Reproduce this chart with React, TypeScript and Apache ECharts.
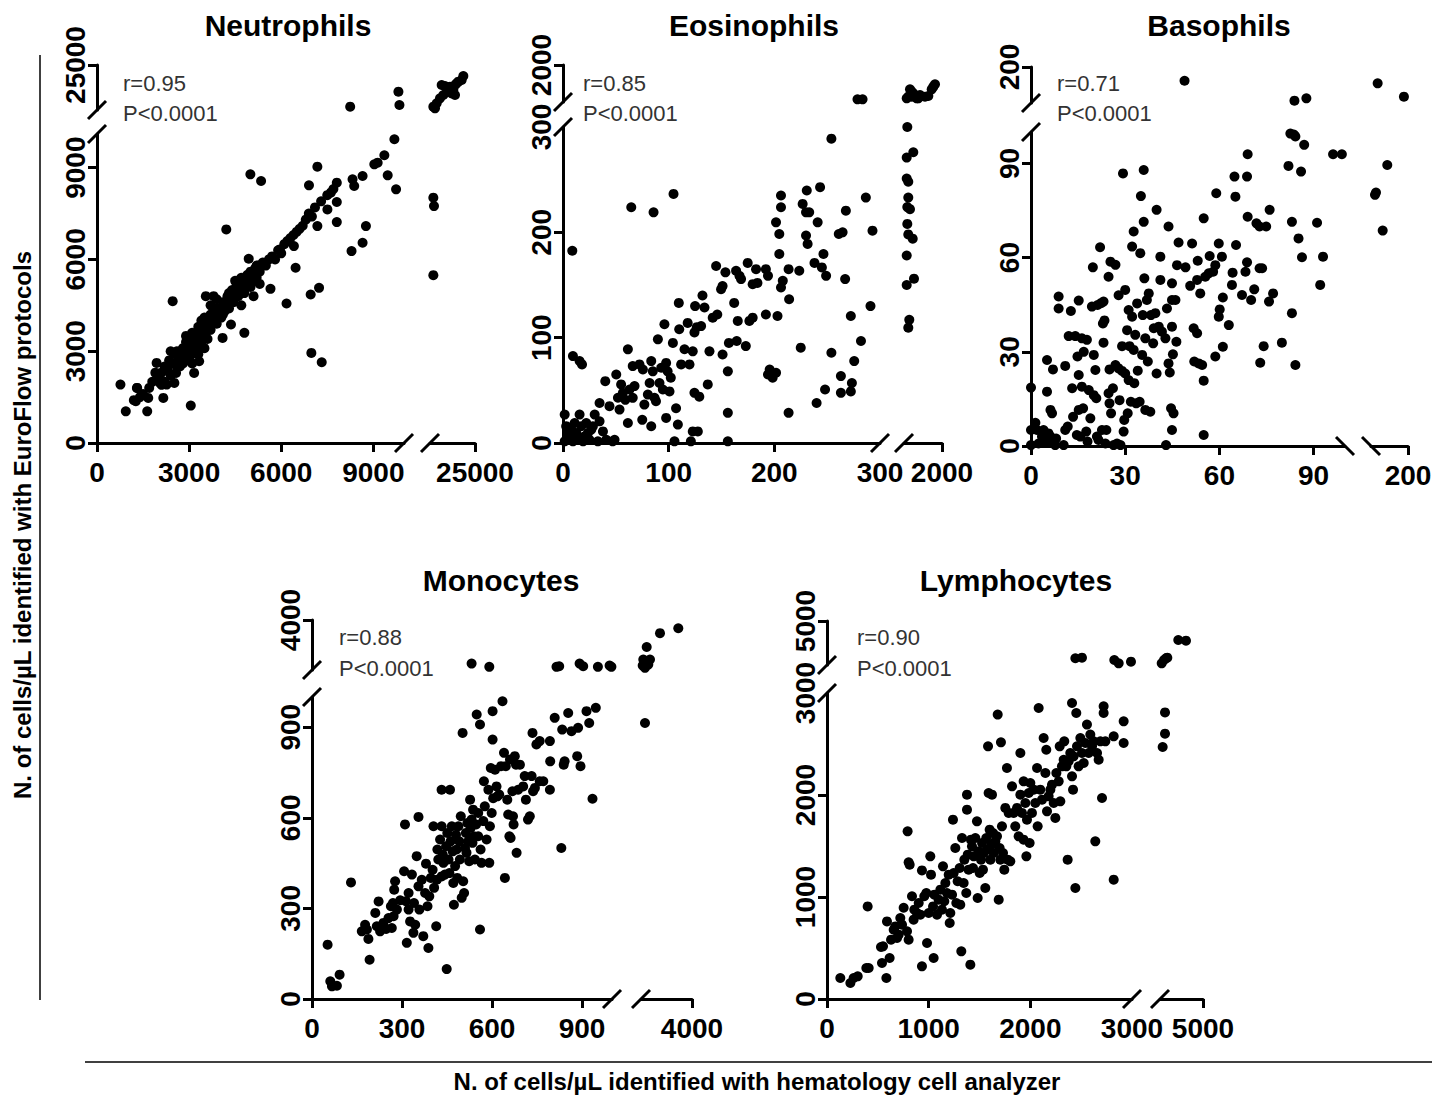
import React, { useEffect, useRef } from "react";
import * as echarts from "echarts";

const FONT = "'Liberation Sans', Arial, Helvetica, sans-serif";

const panelTitles = ["Neutrophils", "Eosinophils", "Basophils", "Monocytes", "Lymphocytes"];
const rLabels = ["r=0.95", "r=0.85", "r=0.71", "r=0.88", "r=0.90"];
const pLabel = "P<0.0001";
const yTitle = "N. of cells/µL identified with EuroFlow protocols";
const xTitle = "N. of cells/µL identified with hematology cell analyzer";

const neutrophilTicks = [0, 3000, 6000, 9000];
const eosinophilTicks = [0, 100, 200, 300];
const basophilTicks = [0, 30, 60, 90];
const monocyteTicks = [0, 300, 600, 900];
const lymphocyteTicks = [0, 1000, 2000, 3000];
const upperTicks = [25000, 2000, 200, 4000, 5000];

const neutrophils: number[][] = [
  [764,1909],[938,1036],[1309,1800],[1265,1364],[1636,1036],[1669,1473],[1942,2618],[2160,1473],[2465,4636],[2051,1964],
  [2269,1909],[2520,1964],[2575,2291],[3055,1222],[3164,2291],[3327,2673],[3545,4800],[4091,3436],[4364,3873],[4800,3600],
  [4211,6982],[4942,6022],[4996,8782],[5345,8564],[5651,5040],[6174,4560],[5956,6327],[6414,6436],[6469,5727],[6905,8422],
  [6960,4855],[6982,2945],[7233,5073],[7320,2640],[7178,9033],[7178,7091],[7505,7636],[7615,8182],[7811,8509],[7811,7876],
  [7811,7222],[8324,8618],[8378,8400],[8291,6273],[8651,6545],[8760,7091],[8651,8727],[9033,9109],[9142,9164],[9360,9404],
  [9469,8749],[9687,9927],[9742,8291],
  [1500,1600],[1700,1800],[1800,2000],[1900,2300],[2000,2100],[2100,2300],[2200,2500],[2300,2400],[2350,2700],[2400,2200],
  [2500,2600],[2550,2900],[2600,2500],[2650,2800],[2700,3000],[2750,2700],[2800,3100],[2850,2900],[2900,3300],[2950,3000],
  [3000,3200],[3000,2800],[3050,3400],[3100,3100],[3150,3300],[3200,3500],[3200,3000],[3250,3200],[3300,3400],[3350,3600],
  [3400,3300],[3400,3700],[3450,3500],[3500,3800],[3550,3600],[3600,4000],[3600,3400],[3650,3800],[3700,4200],[3700,3700],
  [3750,3900],[3800,4100],[3850,4400],[3900,3900],[3950,4200],[4000,4400],[4050,4100],[4100,4600],[4150,4300],[4200,4500],
  [4250,4800],[4300,4400],[4350,4700],[4400,5000],[4450,4600],[4500,4900],[4550,5200],[4600,4800],[4650,5100],[4700,5400],
  [4750,5000],[4800,5300],[4850,5100],[4900,5500],[4950,5200],[5000,5600],[5050,5300],[5100,5500],[5150,5700],[5200,5400],
  [5250,5800],[5300,5600],[5400,5900],[5500,5800],[5600,6000],[5700,6100],[5800,6000],[5900,6300],[6000,6200],[6100,6500],
  [6200,6600],[6300,6700],[6400,6800],[6500,6900],[6600,7000],[6700,7100],[6800,7300],[6900,7500],[7000,7400],[7100,7700],
  [7300,7900],[7500,8100],[7700,8300],[3800,4800],[3900,4700],[4500,5300],[2400,3000],[2100,1900],[1200,1400],[1300,1800],
  [1400,1500],[2200,2000],[2800,2600],[3100,2600],[3300,2900],[3500,3100],[4700,4500],[5100,4800],[5300,5200],
  [2600,3000],[2900,3500],[3100,3600],[3300,3800],[3500,4100],[3700,4500],[3900,4300],[4100,4200],[4300,4900],[4600,5300],
  [4800,4900],[5000,5100],[5200,5800],[2700,2500],[2900,2700],[3100,2900],[3300,3100],[3500,3500],[3400,4000],
  [8247,11111],[9818,16111],[9851,11667],
  [11111,11111],[11667,10556],[12222,12222],[13333,13889],[13889,18333],[14444,15000],[15556,17222],[16667,17778],[16111,16111],
  [17778,16667],[18333,15000],[18889,18889],[19444,19444],[20556,20000],[21111,21333],[18333,18333],[17222,15556],[15000,18000],
  [11111,8018],[11333,7745],[11111,5487]
];

const eosinophils: number[][] = [
  [8.8,182.5],[9.4,82.5],[15.7,77.8],[18,74.6],[64.6,223.8],[85.7,219],[104.6,236.5],
  [1.6,27],[3,16],[6.3,4.8],[9.4,1.6],[4.7,9.5],[12.6,9.5],[15.7,27],[17.3,16],[20.5,6.3],[22,19],[25,3],[26.8,12.7],
  [23.6,9.5],[11,19],[14,3],[1.6,1.6],[7.9,12.7],[19,1.6],[30,27],[34.6,38],[34.6,20.6],[37.8,11],[41,3],[44,35],[47,1.6],
  [48.8,3],[40,58.7],[33,1.6],[28.3,15.9],
  [50.4,65],[52,43],[53.5,31.7],[55,55.6],[56.7,47.6],[59,41],[61.4,88.9],[61.4,19],[63,50.8],[66,42.9],[67.7,54],[66,73],
  [72.4,74.6],[75.6,69.8],[77,36.5],[75,22],[80.3,46],[82,57],[83.5,77.8],[85,68],[83.5,15.9],[86.6,42.9],[88,39.7],[89.8,98.4],
  [91.3,57],[93,71.4],[94.5,50.8],[96,112.7],[97.6,76],[99,68],[100.8,49],[97.6,23.8],[102,62],[104,95],[105.5,1.6],[107,33],
  [108.7,17.5],[110,108],[109.6,133],[111.8,74.6],[115,89],[118,114],[119.7,74.6],[121,1.6],[122.8,87],[124.4,47.6],[124.4,105],
  [125,130],[126.6,110],[122.8,11],[127.6,11],[129,44],[130.7,111],[132,140],[133.9,128.6],[137,55.6],[138.6,87],[141.7,119],
  [144.9,168],[146,122],[149.6,146],[151,84],[151,149],[153.7,162],[156,28.6],[156,1.6],[156,68],[157,95],[162,133],[163.8,163.5],
  [164.4,96.8],[165.4,115.9],[167,158.7],[168.5,155.6],[174.8,171],[176.4,115.9],[173,92],[179.5,119],[179.5,150.8],[182.7,165],
  [184,152],[192,165],[192,122],[194,158.7],[194,65],[195.6,69.8],[198.4,62],[201.6,66.7],[201.6,209.5],[203,120.6],[204.7,198.4],
  [204.7,179.4],[206.3,223.8],[206.3,235],[206.3,147.6],[208,154],[213.5,28.6],[214,136.5],[213.5,165],[223.6,163.5],[225,90.5],
  [226.8,227],[230,219],[230,197],[230.7,239.7],[231.5,189],[233,219],[238,171],[240,38],[241,209.5],[243.3,242.9],[245,166.7],
  [246.5,179.4],[248,50.8],[249,158.7],[254,288.9],[254,85.7],[261,198.4],[263,63.5],[263,47.6],[264.6,200],[267,155.6],
  [267.7,220.6],[272.4,120.6],[273.4,57],[272.4,49],[275.6,77.8],[282,96.8],[286.6,233],[291,130],[292.9,201.6],
  [278.7,424],[283.5,424],
  [448,300],[421,271],[716,276],[421,251],[492,248],[492,233],[448,224],[568,222],[448,208],[492,198],[690,194],[421,178],
  [747,156],[421,150],[537,117],[492,109.5],
  [421,470],[568,883],[645,773],[716,700],[792,544],[868,470],[1016,622],[1239,544],[1387,576],[1539,883],[1611,1003],
  [1687,1113],[492,544],[940,470],[645,544]
];

const basophils: number[][] = [
  [0,18.6],[0,5.1],[0,0.3],[1.4,7.4],[1.9,5.1],[2.4,0.8],[3.5,3],[4,5.1],[5.1,27.4],[5.1,17.3],[4.6,1.4],[5.6,4],[6.2,3],
  [6.2,11.5],[6.7,10.4],[6.7,1.4],[7,24.4],[7.7,0.3],[8,2.4],[8.8,47.6],[8.8,43.8],[10.4,0.3],[10.9,5.1],[10.9,25.5],[11.7,6.2],
  [12,35],[12.7,43],[13.1,18.4],[13.4,9.3],[14.1,35],[14.6,3.5],[14.8,28.5],[15.2,11.5],[15.2,46.3],[15.2,22.6],[15.7,3],
  [16.2,34.3],[16.2,18.9],[16.6,12],[16.8,30],[17.6,4.6],[17.8,33.8],[18,1.4],[18.4,17.8],[18.9,8.8],[19.4,44.4],[19.7,56.9],
  [20,29],[20,16.2],[20.5,24.2],[20.8,15.2],[21,3],[21.2,44.9],[21.5,1.9],[22,63.3],[22.3,45.5],[22.6,5.1],[23.1,46],[22.9,39],
  [23.4,40],[23.1,32.9],[23.7,0.8],[24,5.1],[24.7,53.9],[24.7,16.8],[25,24.4],[25,13.6],[25.5,10.4],[25.3,58.7],[26.1,18.4],
  [26.3,0.3],[26.9,57.7],[26.9,25.8],[27.4,0.8],[27.9,24.7],[27.9,48],[28.2,14.6],[28.5,0.3],[29,23.9],[29,31.8],[29.3,86.8],
  [29.5,4.6],[29.7,8.3],[30,49.7],[30,23.1],[30.6,36.9],[30.8,10.4],[31.1,21],[31.1,43.3],[31.4,31.8],[31.8,14.1],[32.2,41.2],
  [32.2,63.5],[32.7,68.3],[32.7,30.6],[32.9,20],[33.2,35.4],[33.5,13.6],[33.8,45.4],[34,24],[34.6,14.1],[34.8,61.4],[35,79.6],
  [35.4,29],[35.6,41.7],[35.9,87.9],[35.9,71.4],[36.1,53.4],[36.4,34.3],[36.4,11.5],[36.9,46.5],[37.2,26.9],[37.5,48.6],
  [38,10.9],[38.2,41.7],[38.9,32.7],[39.1,37.5],[39.6,42.3],[40,75.2],[40,23.1],[40.7,38],[41.2,60.3],[41.2,52.9],[41.7,36.4],
  [42.8,34.3],[43,0.3],[43.3,43.8],[43.8,69.9],[43.8,26.3],[44.2,23.4],[44.6,12],[44.9,51.8],[44.9,46.5],[44.9,38],[44.9,5.1],
  [45.2,29.2],[45.4,10.4],[46,46.5],[46.3,33.2],[47,64.8],[46.5,57.6],[49.2,56.9],[50.7,51],[51.3,64.5],[51.8,37.5],[52,26.9],
  [52.9,52.9],[52.9,35.9],[53.1,59],[53.4,26.3],[53.9,48.6],[54.5,25.8],[55,72.5],[55,20.8],[55,3.5],[55.5,53.9],[56.6,55],
  [56.9,60.5],[58,55.5],[58.7,28.5],[58.7,57.6],[59,80.5],[59.8,64.5],[59.8,41.2],[60.1,43.5],[60.8,60.3],[61.1,47.3],
  [61.1,31.6],[63,38.5],[64,51.3],[64.2,55.2],[64.8,85.8],[65.1,79.4],[65.3,64],[67.2,48.1],[68.3,55.5],[68.8,58.5],[68.8,85.8],
  [69,92.9],[69,73],[70.1,46.5],[71.1,49.9],[71.8,70.9],[72.8,69.9],[72.8,56.6],[73,26.5],[73.6,56.6],[74.1,31.8],[74.9,69.9],
  [75.8,46],[76,75.2],[77.1,48.6],[79.9,32.9],[82,89.2],[82.6,99.5],[83.1,71.4],[83.1,42.3],[83.7,99.2],[84.2,98.6],[84.2,25.8],
  [85.2,66.1],[86,87.4],[86.3,60.1],[87,95.9],[91.1,71.1],[92.1,51.3],[93,60.3],[96.2,92.9],[99,92.9],
  [48.9,161.9],[83.9,106.4],[87.7,113],
  [118,154.7],[189,117.5],
  [110.8,80],[113.5,80.7],[144,89.5],[131.6,68.6]
];

const monocytes: number[][] = [
  [52,180],[61,58.5],[66.5,42],[83,44],[92,80.6],[130,386],[192,130],[188,199],[183,230],[166,224],[177,246],[211,285],
  [222,323],[216,241],[227,224],[238,252],[247,232],[255,268],[266,235],[263,307],[270,318],[274,362],[277,390],[272,274],
  [283,296],[294,327],[310,578],[307,423],[313,324],[316,186],[322,296],[322,351],[327,257],[333,412],[338,219],[340,318],
  [344,246],[349,473],[355,603],[355,373],[358,296],[366,395],[371,208],[377,351],[380,448],[385,307],[388,169],[391,340],
  [396,401],[402,428],[405,572],[407,368],[414,241],[416,395],[418,495],[421,462],[427,528],[432,572],[432,693],[432,406],
  [436,478],[438,451],[443,412],[447,506],[449,99],[451,550],[455,462],[458,417],[460,693],[462,522],[466,572],[469,489],
  [471,384],[473,312],[477,440],[480,544],[482,495],[484,401],[488,572],[491,522],[493,462],[496,605],[499,335],[502,881],
  [504,390],[507,351],[510,500],[513,550],[515,484],[518,583],[521,522],[524,456],[527,660],[529,567],[532,594],[535,517],
  [537,627],[540,539],[543,462],[547,578],[549,942],[554,616],[554,539],[560,230],[560,909],[562,495],[565,451],[571,589],
  [573,721],[576,638],[582,528],[588,693],[591,451],[593,572],[596,765],[599,616],[602,859],[602,953],[604,665],[610,759],
  [615,704],[618,671],[624,677],[630,771],[635,986],[640,815],[643,401],[646,771],[651,660],[654,611],[658,539],[660,793],
  [662,533],[668,688],[670,605],[672,578],[676,804],[680,776],[682,484],[687,693],[693,776],[704,704],[709,738],[713,660],
  [720,594],[726,605],[732,738],[735,881],[737,688],[743,699],[748,843],[759,854],[759,721],[771,721],[793,854],[794,787],
  [793,693],[809,931],[831,500],[834,892],[839,776],[842,787],[854,947],[865,887],[887,898],[884,804],[895,771],[915,953],
  [924,914],[935,663],[946,964],
  [532,1386],[591,1190],[815,1190],[824,1226],[892,1386],[904,1226],[953,1190],[992,1267],[998,1190],
  [1335,2378],[1135,1624],[1235,1131],[1335,1428],[1529,1624],[1100,1267],[1429,1327],[2118,3210],[3194,3507],
  [1235,914]
];

const lymphocytes: number[][] = [
  [131,206],[230,157],[262,206],[302,222],[387,304],[410,304],[400,908],[541,353],[531,510],[551,516],[590,761],[584,206],
  [616,402],[630,582],[656,680],[672,712],[689,598],[705,631],[721,794],[738,729],[754,895],[787,663],[803,582],[793,1644],
  [803,1340],[813,1317],[836,1007],[852,778],[859,876],[885,843],[902,941],[918,827],[934,320],[934,1261],[957,1007],[977,1039],
  [984,549],[1000,843],[1016,1399],[1023,1219],[1043,908],[1049,402],[1056,1023],[1082,827],[1098,974],[1115,1072],[1131,876],
  [1141,1301],[1154,958],[1164,1137],[1180,1039],[1197,1219],[1207,745],[1213,843],[1230,1023],[1239,1758],[1246,1235],
  [1262,1480],[1272,941],[1285,1154],[1305,1284],[1311,925],[1321,467],[1328,1578],[1344,1137],[1351,1366],[1370,1039],
  [1377,2003],[1377,1856],[1384,1415],[1393,1268],[1410,337],[1416,1562],[1426,1497],[1436,1284],[1443,1399],[1459,1578],
  [1475,1742],[1482,990],[1492,1448],[1502,1235],[1515,1366],[1525,1529],[1534,1268],[1541,1431],[1557,1088],[1567,1578],
  [1574,1464],[1584,2477],[1590,2020],[1600,1660],[1607,1366],[1616,1513],[1623,2003],[1633,1627],[1639,1431],[1656,1546],
  [1672,1595],[1679,2788],[1689,974],[1698,1480],[1705,1366],[1711,2516],[1721,1693],[1731,1431],[1744,1268],[1754,1873],
  [1770,2265],[1777,1366],[1787,1824],[1803,1350],[1820,2085],[1836,1824],[1852,1693],[1869,1873],[1885,1595],[1902,2412],
  [1902,2003],[1918,1824],[1934,2134],[1934,1562],[1951,1922],[1961,1399],[1967,1758],[1984,2020],[1993,1529],[2000,2118],
  [2016,1824],[2033,2052],[2049,1922],[2066,2265],[2072,1693],[2082,2853],[2098,2052],[2115,1954],[2131,2559],[2148,2216],
  [2157,2444],[2164,1840],[2180,1987],[2197,2052],[2213,2101],[2230,1922],[2246,1775],[2256,2216],[2279,2134],[2289,2477],
  [2295,1938],[2311,2281],[2328,2346],[2334,2526],[2354,2281],[2367,1366],[2377,2330],[2393,2412],[2410,2902],[2410,2183],
  [2420,2052],[2426,2379],[2443,1088],[2452,2804],[2459,2477],[2475,2281],[2492,2559],[2508,2412],[2525,2314],[2541,2510],
  [2557,2690],[2574,2412],[2590,2592],[2607,2477],[2623,2526],[2639,1546],[2656,2412],[2672,2346],[2689,2526],[2705,1971],
  [2721,2869],[2721,2804],[2738,2526],[2820,2575],[2820,1170],[2918,2722],[2918,2510],
  [2443,3305],[2508,3332],[2826,3227],[2869,3077],[2990,3150],
  [3079,3077],[3186,3227],[3279,3305],[3340,3332],[3851,4136],[4209,4105],
  [3233,2810],[3233,2601],[3124,2471]
];

const panelData = [neutrophils, eosinophils, basophils, monocytes, lymphocytes];
const panelTicks = [neutrophilTicks, eosinophilTicks, basophilTicks, monocyteTicks, lymphocyteTicks];
const mainRanges = [[0, 10000, 0, 10100], [0, 300, 0, 300], [0, 100, 0, 100], [0, 1000, 0, 1000], [0, 3000, 0, 3000]];
const upperRanges = [[10000, 25000], [300, 2000], [100, 200], [1000, 4000], [3000, 5000]];

// layout (pixels): axis x, axis y, main right, main top, upper left, upper right, upper top, upper bottom
const layouts = [
  { ax: 97, ay: 443, mr: 404, mt: 134, ul: 430, ur: 475, ut: 65, ub: 110, tx: 288, ty: 25, an: 123, ry: 83, py: 113, xd: 1 },
  { ax: 563, ay: 443, mr: 880, mt: 127, ul: 904, ur: 942, ut: 65, ub: 102, tx: 754, ty: 25, an: 583, ry: 83, py: 113, xd: 1 },
  { ax: 1031, ay: 446, mr: 1345, mt: 132, ul: 1371, ur: 1408, ut: 67, ub: 103, tx: 1219, ty: 25, an: 1057, ry: 83, py: 113, xd: -1 },
  { ax: 312, ay: 999, mr: 612, mt: 697, ul: 641, ur: 692, ut: 620, ub: 670, tx: 501, ty: 580, an: 339, ry: 637, py: 668, xd: 1 },
  { ax: 827, ay: 999, mr: 1132, mt: 693, ul: 1160, ur: 1203, ut: 621, ub: 665, tx: 1016, ty: 580, an: 857, ry: 637, py: 668, xd: 1 },
];

function buildOption() {
  const grid: any[] = [];
  const xAxis: any[] = [];
  const yAxis: any[] = [];
  const series: any[] = [];
  const graphic: any[] = [];
  const lineStyle = { color: "#000", width: 3 };
  const labelBase = {
    color: "#000",
    fontFamily: FONT,
    fontWeight: "bold",
    fontSize: 28,
    formatter: (v: number) => String(v),
  };
  const slash = (cx: number, cy: number, d: number) => ({
    type: "line",
    z: 100,
    shape: { x1: cx - 9, y1: cy + 9 * d, x2: cx + 9, y2: cy - 9 * d },
    style: { stroke: "#000", lineWidth: 3 },
  });

  panelData.forEach((data, i) => {
    const L = layouts[i];
    const [x0, x1, y0, y1] = mainRanges[i];
    const [u0, u1] = upperRanges[i];
    const ticks = panelTicks[i];
    const up = upperTicks[i];
    const rects = [
      { l: L.ax, r: L.mr, t: L.mt, b: L.ay, xr: [x0, x1], yr: [y0, y1], xs: true, ys: true,
        xl: ticks, yl: ticks, xt: ticks.filter((v) => v < x1), yt: ticks.filter((v) => v < y1) },
      { l: L.ax, r: L.mr, t: L.ut, b: L.ub, xr: [x0, x1], yr: [u0, u1], xs: false, ys: true,
        xl: [], yl: [up], xt: [], yt: [up] },
      { l: L.ul, r: L.ur, t: L.mt, b: L.ay, xr: [u0, u1], yr: [y0, y1], xs: true, ys: false,
        xl: [up], yl: [], xt: [up], yt: [] },
      { l: L.ul, r: L.ur, t: L.ut, b: L.ub, xr: [u0, u1], yr: [u0, u1], xs: false, ys: false,
        xl: [], yl: [], xt: [], yt: [] },
    ];
    rects.forEach((g, k) => {
      const gi = grid.length;
      grid.push({ left: g.l, top: g.t, width: g.r - g.l, height: g.b - g.t, containLabel: false, outerBoundsMode: "none" });
      xAxis.push({
        type: "value", gridIndex: gi, min: g.xr[0], max: g.xr[1], show: g.xs, position: "bottom",
        axisLine: { show: true, onZero: false, lineStyle },
        axisTick: { show: true, length: 9, lineStyle, customValues: g.xt },
        axisLabel: { ...labelBase, margin: 15, customValues: g.xl },
        splitLine: { show: false },
      });
      yAxis.push({
        type: "value", gridIndex: gi, min: g.yr[0], max: g.yr[1], show: g.ys, position: "left",
        axisLine: { show: true, onZero: false, lineStyle },
        axisTick: { show: true, length: 9, lineStyle, customValues: g.yt },
        axisLabel: { ...labelBase, margin: 8, rotate: 90, customValues: g.yl },
        splitLine: { show: false },
      });
      const inX = (x: number) => (k === 0 || k === 1 ? x <= x1 : x > x1);
      const inY = (y: number) => (k === 0 || k === 2 ? y <= y1 : y > y1);
      series.push({
        type: "scatter", xAxisIndex: gi, yAxisIndex: gi, symbol: "circle", symbolSize: 10,
        itemStyle: { color: "#000", opacity: 1 }, silent: true, clip: false,
        data: data.filter(([x, y]) => inX(x) && inY(y)),
      });
    });
    graphic.push(slash(L.ax, L.mt, 1), slash(L.ax, L.ub, 1));
    graphic.push(slash(L.mr, L.ay, L.xd), slash(L.ul, L.ay, L.xd));
    graphic.push({
      type: "text", x: L.tx, y: L.ty, z: 100,
      style: { text: panelTitles[i], fill: "#000", fontFamily: FONT, fontWeight: "bold", fontSize: 30, textAlign: "center", textVerticalAlign: "middle" },
    });
    graphic.push({
      type: "text", x: L.an, y: L.ry, z: 100,
      style: { text: rLabels[i], fill: "#333", fontFamily: FONT, fontSize: 22, textAlign: "left", textVerticalAlign: "middle" },
    });
    graphic.push({
      type: "text", x: L.an, y: L.py, z: 100,
      style: { text: pLabel, fill: "#333", fontFamily: FONT, fontSize: 22, textAlign: "left", textVerticalAlign: "middle" },
    });
  });

  graphic.push({ type: "line", shape: { x1: 40, y1: 55, x2: 40, y2: 1000 }, style: { stroke: "#000", lineWidth: 1.5 } });
  graphic.push({ type: "line", shape: { x1: 85, y1: 1062, x2: 1432, y2: 1062 }, style: { stroke: "#000", lineWidth: 1.5 } });
  graphic.push({
    type: "text", x: 22, y: 525, rotation: Math.PI / 2,
    style: { text: yTitle, fill: "#000", fontFamily: FONT, fontWeight: "bold", fontSize: 24, textAlign: "center", textVerticalAlign: "middle" },
  });
  graphic.push({
    type: "text", x: 757, y: 1081,
    style: { text: xTitle, fill: "#000", fontFamily: FONT, fontWeight: "bold", fontSize: 24, textAlign: "center", textVerticalAlign: "middle" },
  });

  return {
    animation: false,
    backgroundColor: "#fff",
    grid, xAxis, yAxis, series, graphic,
  };
}

export default function App() {
  const ref = useRef<HTMLDivElement>(null);
  useEffect(() => {
    if (!ref.current) return;
    const chart = echarts.init(ref.current, undefined, { renderer: "svg" });
    chart.setOption(buildOption() as any);
    return () => chart.dispose();
  }, []);
  return (
    <div
      ref={ref}
      style={{ position: "absolute", left: 0, top: 0, width: 1449, height: 1099, background: "#fff" }}
    />
  );
}
